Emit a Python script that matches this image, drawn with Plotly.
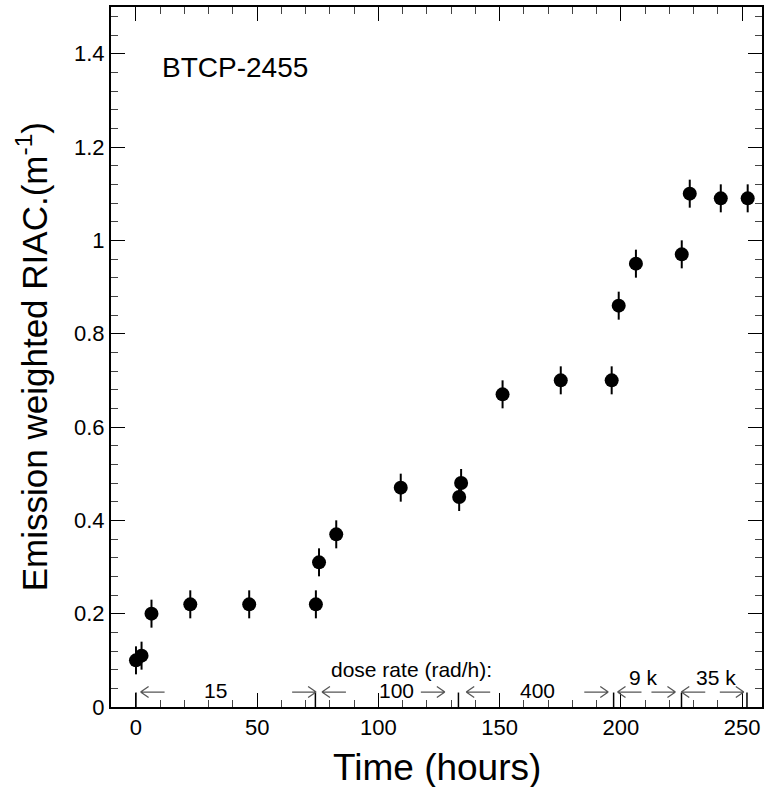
import plotly.graph_objects as go

# Data
time_h = [0.0, 2.3, 6.4, 22.4, 46.7, 74.2, 75.5, 82.6, 109.2, 133.3, 134.1,
          151.2, 175.2, 196.2, 199.1, 206.2, 225.1, 228.4, 241.2, 252.3]
riac = [0.10, 0.11, 0.20, 0.22, 0.22, 0.22, 0.31, 0.37, 0.47, 0.45, 0.48,
        0.67, 0.70, 0.70, 0.86, 0.95, 0.97, 1.10, 1.09, 1.09]
riac_err = [0.03] * len(riac)

dose_boundaries = [0, 74, 133, 197, 225, 252]
dose_labels = ["15", "100", "400", "9 k", "35 k"]
dose_label_x = [33, 107.5, 165.4, 209.4, 239.3]
dose_label_y = [0.036, 0.036, 0.036, 0.064, 0.064]
arrow_left_start = [1.9, 76.7, 136.2, 198.6, 224.9]
arrow_right_end = [74.3, 127.4, 194.8, 222.5, 250.7]

FONT = "Liberation Sans, Arial, Helvetica, sans-serif"
ARROW_Y = 0.032
ARROW_COLOR = "#555555"

fig = go.Figure()
fig.add_trace(go.Scatter(
    x=time_h, y=riac, mode="markers",
    marker=dict(symbol="circle", size=14, color="black"),
    error_y=dict(type="data", array=riac_err, visible=True,
                 color="black", thickness=2, width=0),
    showlegend=False, cliponaxis=False,
))

# dose-rate separators
for b in dose_boundaries:
    fig.add_shape(type="line", xref="x", yref="y", x0=b, x1=b, y0=0, y1=0.031,
                  line=dict(color="black", width=1.5))

# arrows drawn as pixel-sized paths anchored at data positions
for xs in arrow_left_start:
    fig.add_shape(type="path", xref="x", yref="y",
                  xsizemode="pixel", ysizemode="pixel", xanchor=xs, yanchor=ARROW_Y,
                  path="M 0 0 L 24 0 M 0 0 L 8 5.5 M 0 0 L 8 -5.5",
                  line=dict(color=ARROW_COLOR, width=1.3))
for xe in arrow_right_end:
    fig.add_shape(type="path", xref="x", yref="y",
                  xsizemode="pixel", ysizemode="pixel", xanchor=xe, yanchor=ARROW_Y,
                  path="M 0 0 L -24 0 M 0 0 L -8 5.5 M 0 0 L -8 -5.5",
                  line=dict(color=ARROW_COLOR, width=1.3))

ann = []
for i, lab in enumerate(dose_labels):
    ann.append(dict(x=dose_label_x[i], y=dose_label_y[i], xref="x", yref="y", text=lab,
                    showarrow=False, xanchor="center", yanchor="middle",
                    font=dict(family=FONT, size=21, color="black")))
ann.append(dict(x=113.5, y=0.081, xref="x", yref="y", text="dose rate (rad/h):",
                showarrow=False, xanchor="center", yanchor="middle",
                font=dict(family=FONT, size=21, color="black")))
ann.append(dict(x=0.075, y=0.913, xref="paper", yref="paper", text="BTCP-2455",
                showarrow=False, xanchor="left", yanchor="middle",
                font=dict(family=FONT, size=28, color="black")))
# axis titles
ann.append(dict(x=0.5, y=-0.086, xref="paper", yref="paper", text="Time (hours)",
                showarrow=False, xanchor="center", yanchor="middle",
                font=dict(family=FONT, size=37, color="black")))
ann.append(dict(x=-0.121, y=0.5, xref="paper", yref="paper",
                text="Emission weighted RIAC.(m<sup>-1</sup>)", textangle=-90,
                showarrow=False, xanchor="center", yanchor="middle",
                font=dict(family=FONT, size=35, color="black")))

fig.update_layout(
    width=765, height=787,
    margin=dict(l=111, r=1, t=7, b=80),
    paper_bgcolor="white", plot_bgcolor="white",
    annotations=ann,
    font=dict(family=FONT, color="black"),
)
fig.update_xaxes(
    range=[-10.3, 258.2], showgrid=False, zeroline=False,
    showline=True, linecolor="black", linewidth=2, mirror="allticks",
    ticks="inside", ticklen=14, tickwidth=1, tickcolor="black",
    tick0=0, dtick=50,
    minor=dict(ticks="inside", ticklen=7, dtick=10, tickcolor="#444", showgrid=False),
    tickfont=dict(family=FONT, size=22, color="black"),
)
fig.update_yaxes(
    range=[0, 1.5], showgrid=False, zeroline=False,
    showline=True, linecolor="black", linewidth=2, mirror="allticks",
    ticks="inside", ticklen=14, tickwidth=1, tickcolor="black",
    tick0=0, dtick=0.2, tickformat="~g",
    minor=dict(ticks="inside", ticklen=7, dtick=0.04, tickcolor="#444", showgrid=False),
    tickfont=dict(family=FONT, size=22, color="black"),
)

fig.write_html(
    "out.html",
    config={"displayModeBar": False},
    post_script="document.body.style.margin='0';document.body.style.overflow='hidden';"
                "document.documentElement.style.overflow='hidden';",
)
